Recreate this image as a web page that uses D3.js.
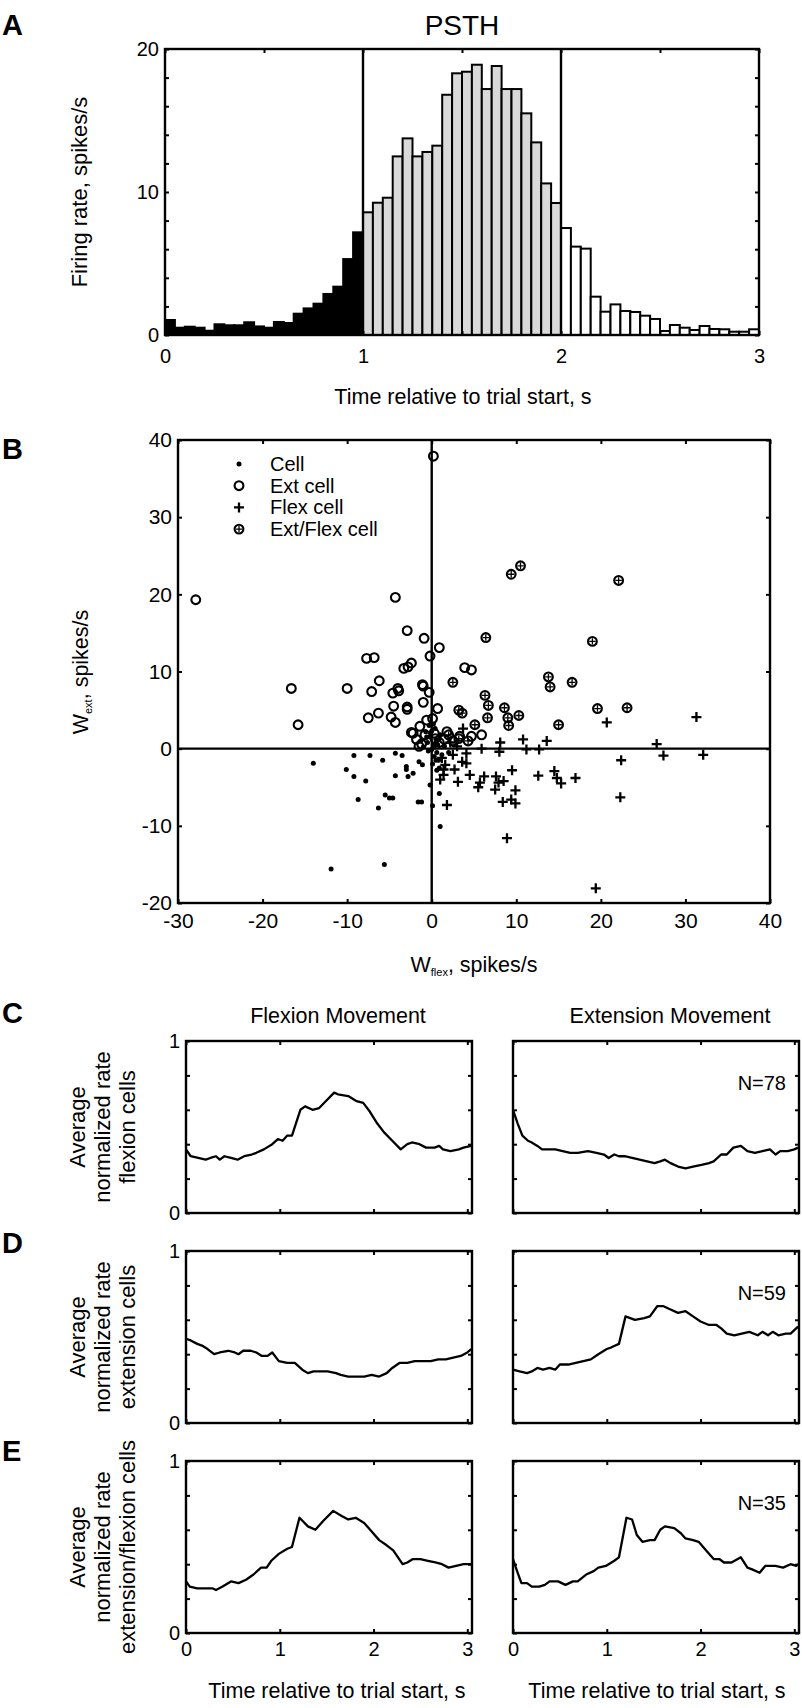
<!DOCTYPE html>
<html><head><meta charset="utf-8">
<script src="https://cdn.jsdelivr.net/npm/d3@7"></script>
<style>
body{margin:0;background:#fff}
svg{display:block}
text{font-family:"Liberation Sans",Arial,Helvetica,sans-serif;fill:#000}
</style></head><body>
<svg id="fig" width="802" height="1708"></svg>
<script>
// ---------- Panel A: PSTH ----------
const psthBinWidth = 0.05;
const psthRates = [
  1.05,0.51,0.58,0.51,0.30,0.75,0.68,0.68,0.89,0.60,0.51,0.91,0.84,1.49,1.86,2.19,2.87,3.38,5.31,7.18,
  8.58,9.25,9.60,12.49,13.75,12.49,12.80,13.24,16.80,18.30,18.41,18.90,17.20,18.81,17.20,17.20,15.50,13.47,10.60,9.23,
  7.48,6.18,6.04,2.68,1.63,2.14,1.68,1.61,1.35,1.12,0.28,0.70,0.51,0.35,0.63,0.42,0.40,0.23,0.23,0.40];
const psthEpochEdges = [1, 2];
const psthEpochFills = ["#000000", "#d9d9d9", "#ffffff"];
const psthXTicks = [0,0.5,1,1.5,2,2.5,3];
const psthXLabels = [0,1,2,3];
const psthYTicks = [0,2,4,6,8,10,12,14,16,18,20];
const psthYLabels = [0,10,20];

// ---------- Panel B: scatter ----------
const cellPts = [[-14.0,-1.9],[-11.9,-15.6],[-5.6,-15.0],[1.0,-10.1],[-9.2,-0.9],[-7.3,-0.9],[-5.8,-1.5],[-4.3,-0.6],[-3.5,-0.9],
  [-10.1,-2.7],[-9.2,-3.6],[-7.8,-4.2],[-4.3,-3.5],[-3.0,-2.3],[-3.0,-2.7],[-2.8,-3.6],[-2.2,-3.2],[-1.5,-1.7],[-1.1,-2.1],
  [-8.7,-6.6],[-5.5,-6.0],[-5.0,-6.4],[-4.6,-6.4],[-6.3,-7.7],[-1.6,-6.9],[-1.2,-6.9],[-0.2,-4.7],[0.9,-5.8],[0.1,-7.4],
  [0.6,-2.8],[0.3,-1.0],[0.6,-0.5],[-0.4,-0.3],[0.8,-1.5],[1.2,-0.8],[0.2,0.5],[-0.5,0.8],[0.5,1.2],[1.5,0.3],[2.0,-0.5],
  [-1.0,0.2],[0.1,-2.0],[0.9,-2.5],[-0.2,1.5],[0.4,2.6],[-0.7,2.2],[0.0,-0.1],[0.3,0.2],[-0.3,3.0],[0.2,3.2],[-0.6,1.5],
  [0.7,0.5],[1.0,1.8],[-1.3,1.0],[0.0,2.3],[0.5,-1.5]];
const extPts = [[-27.9,19.3],[0.2,37.9],[-4.3,19.6],[-2.9,15.3],[-0.9,14.3],[0.9,13.1],[-0.2,12.0],[-7.7,11.7],[-6.8,11.8],
  [-2.4,11.1],[-3.3,10.4],[-2.8,10.6],[3.9,10.5],[4.7,10.2],[-16.6,7.8],[-10.0,7.8],[-7.1,7.4],[-6.2,8.8],[-4.0,7.8],
  [-3.9,7.5],[-4.6,7.2],[-1.1,8.3],[-1.0,8.1],[-0.3,7.3],[-1.0,6.0],[-4.5,5.5],[-2.9,5.4],[-2.9,5.1],[0.7,5.2],[-6.3,4.6],
  [-7.5,4.0],[-4.8,4.1],[-4.3,3.4],[-15.8,3.1],[-2.4,2.1],[-2.2,2.0],[-1.4,2.9],[-0.6,3.7],[0.1,3.9],[1.8,2.2],[3.3,1.6],
  [4.7,1.6],[5.9,1.8],[-1.8,1.2],[-1.2,0.6],[-0.8,1.8],[0.3,2.0],[0.9,0.8],[2.5,1.0],[1.5,1.2],[-1.5,0.3],[0.4,1.3]];
const flexPts = [[31.3,4.1],[20.7,3.4],[26.6,0.6],[27.4,-0.9],[32.1,-0.8],[22.4,-1.5],[22.3,-6.3],[19.4,-18.1],[8.9,-11.6],
  [10.8,1.2],[13.6,1.0],[12.7,-0.1],[11.2,-0.1],[8.1,0.8],[8.0,-0.4],[5.9,0.0],[4.1,-0.6],[3.7,2.6],[3.6,-1.7],[4.1,-1.9],
  [1.6,-2.1],[1.4,-2.7],[2.7,-2.7],[1.0,-4.0],[1.4,-3.4],[1.8,-7.3],[4.5,-3.4],[3.1,-4.3],[6.2,-3.6],[5.5,-5.0],[5.7,-4.4],
  [7.6,-3.6],[7.9,-4.4],[8.5,-4.2],[7.5,-5.3],[9.5,-2.8],[9.9,-5.4],[8.4,-6.9],[9.4,-6.6],[9.9,-7.1],[12.6,-3.5],[14.5,-2.9],
  [14.8,-3.8],[15.3,-4.5],[17.0,-3.8],[2.5,-0.8],[1.2,-1.2],[3.0,0.3],[2.2,0.8]];
const extFlexPts = [[9.4,22.6],[10.5,23.7],[22.1,21.8],[6.4,14.4],[19.0,13.9],[2.5,8.6],[13.8,9.3],[14.0,8.0],[16.6,8.6],
  [6.3,6.9],[6.7,5.6],[6.6,4.0],[3.2,5.0],[3.6,4.6],[8.6,5.3],[9.0,4.0],[9.1,3.0],[10.3,4.3],[15.0,3.1],[19.6,5.2],
  [23.1,5.3],[5.1,3.1],[2.0,1.8],[3.2,1.3],[4.3,1.0]];
const legendLabels = ["Cell", "Ext cell", "Flex cell", "Ext/Flex cell"];
const scatterXTicks = [-30,-20,-10,0,10,20,30,40];
const scatterYTicks = [-20,-10,0,10,20,30,40];

// ---------- Panels C-E: average normalized rates [time s, rate] ----------
const flexCellsFlexMove = [[0,0.37],[0.05,0.33],[0.13,0.32],[0.21,0.31],[0.26,0.32],[0.32,0.33],[0.36,0.31],[0.41,0.33],[0.48,0.32],[0.55,0.31],
  [0.62,0.33],[0.70,0.34],[0.75,0.35],[0.83,0.37],[0.92,0.40],[0.98,0.43],[1.03,0.42],[1.08,0.45],[1.13,0.45],[1.22,0.60],
  [1.27,0.62],[1.35,0.60],[1.42,0.61],[1.49,0.65],[1.58,0.70],[1.62,0.69],[1.73,0.68],[1.82,0.65],[1.89,0.64],[1.96,0.59],
  [2.04,0.52],[2.11,0.47],[2.20,0.42],[2.29,0.37],[2.36,0.40],[2.41,0.41],[2.49,0.40],[2.56,0.38],[2.65,0.38],[2.70,0.39],
  [2.74,0.37],[2.82,0.36],[2.91,0.37],[2.96,0.38],[3.04,0.39]];
const flexCellsExtMove = [[0,0.60],[0.05,0.52],[0.10,0.45],[0.16,0.42],[0.20,0.41],[0.26,0.39],[0.31,0.37],[0.39,0.37],[0.45,0.37],
  [0.53,0.36],[0.61,0.35],[0.69,0.35],[0.80,0.36],[0.89,0.35],[0.97,0.34],[1.02,0.32],[1.08,0.34],[1.13,0.33],[1.19,0.33],
  [1.27,0.32],[1.35,0.31],[1.43,0.30],[1.51,0.29],[1.57,0.30],[1.62,0.31],[1.68,0.29],[1.76,0.27],[1.84,0.26],[1.92,0.27],
  [2.01,0.28],[2.09,0.29],[2.14,0.30],[2.22,0.34],[2.28,0.34],[2.35,0.38],[2.43,0.39],[2.50,0.36],[2.58,0.35],[2.66,0.36],
  [2.74,0.37],[2.80,0.34],[2.85,0.36],[2.93,0.36],[3.00,0.37],[3.04,0.38]];
const extCellsFlexMove = [[0,0.49],[0.05,0.48],[0.12,0.46],[0.17,0.45],[0.23,0.43],[0.30,0.40],[0.36,0.41],[0.45,0.42],[0.52,0.41],
  [0.56,0.40],[0.61,0.42],[0.69,0.42],[0.75,0.41],[0.81,0.39],[0.87,0.39],[0.92,0.41],[0.99,0.36],[1.08,0.35],[1.16,0.35],
  [1.24,0.31],[1.30,0.29],[1.36,0.30],[1.43,0.30],[1.51,0.30],[1.60,0.29],[1.65,0.28],[1.73,0.27],[1.81,0.27],[1.90,0.27],
  [1.98,0.28],[2.06,0.27],[2.14,0.29],[2.20,0.32],[2.28,0.35],[2.36,0.35],[2.44,0.36],[2.52,0.36],[2.61,0.36],[2.69,0.37],
  [2.77,0.37],[2.85,0.38],[2.93,0.39],[3.00,0.41],[3.04,0.43]];
const extCellsExtMove = [[0,0.31],[0.07,0.30],[0.15,0.29],[0.20,0.30],[0.26,0.32],[0.32,0.31],[0.39,0.32],[0.45,0.31],[0.50,0.34],
  [0.59,0.34],[0.67,0.35],[0.75,0.36],[0.83,0.37],[0.91,0.40],[1.00,0.43],[1.05,0.44],[1.13,0.46],[1.20,0.62],[1.30,0.60],
  [1.40,0.61],[1.46,0.62],[1.54,0.68],[1.60,0.68],[1.68,0.66],[1.76,0.64],[1.84,0.65],[1.92,0.62],[2.00,0.59],[2.09,0.57],
  [2.17,0.57],[2.22,0.55],[2.28,0.52],[2.36,0.51],[2.44,0.52],[2.52,0.53],[2.61,0.51],[2.66,0.53],[2.72,0.51],[2.77,0.53],
  [2.83,0.51],[2.91,0.52],[2.96,0.52],[3.02,0.55],[3.04,0.56]];
const bothCellsFlexMove = [[0,0.30],[0.04,0.27],[0.12,0.26],[0.20,0.26],[0.28,0.26],[0.32,0.25],[0.39,0.27],[0.48,0.30],[0.56,0.29],
  [0.64,0.31],[0.72,0.34],[0.80,0.38],[0.86,0.38],[0.91,0.42],[0.99,0.46],[1.08,0.49],[1.13,0.50],[1.21,0.67],[1.30,0.62],
  [1.38,0.60],[1.46,0.65],[1.57,0.71],[1.66,0.68],[1.73,0.66],[1.81,0.67],[1.90,0.64],[1.98,0.59],[2.06,0.54],[2.14,0.51],
  [2.21,0.48],[2.31,0.40],[2.36,0.41],[2.42,0.43],[2.50,0.43],[2.58,0.42],[2.66,0.41],[2.73,0.40],[2.80,0.38],[2.88,0.39],
  [2.96,0.40],[3.04,0.40]];
const bothCellsExtMove = [[0,0.43],[0.05,0.35],[0.09,0.29],[0.15,0.29],[0.20,0.27],[0.28,0.27],[0.34,0.28],[0.39,0.30],[0.48,0.30],
  [0.56,0.28],[0.64,0.30],[0.69,0.30],[0.78,0.34],[0.86,0.36],[0.91,0.38],[0.99,0.39],[1.08,0.42],[1.13,0.44],[1.21,0.67],
  [1.27,0.66],[1.32,0.57],[1.38,0.53],[1.46,0.54],[1.51,0.54],[1.57,0.60],[1.62,0.62],[1.72,0.61],[1.79,0.58],[1.84,0.55],
  [1.92,0.54],[1.98,0.53],[2.06,0.48],[2.14,0.43],[2.20,0.43],[2.25,0.41],[2.33,0.41],[2.43,0.44],[2.50,0.38],[2.55,0.37],
  [2.63,0.35],[2.69,0.39],[2.74,0.39],[2.80,0.39],[2.88,0.38],[2.96,0.40],[3.02,0.39],[3.04,0.40]];
const columnTitles = ["Flexion Movement", "Extension Movement"];
const rowLetters = ["C", "D", "E"];
const rowYLabels = [["Average","normalized rate","flexion cells"],
                    ["Average","normalized rate","extension cells"],
                    ["Average","normalized rate","extension/flexion cells"]];
const rowCounts = ["N=78", "N=59", "N=35"];
const rowSeries = [[flexCellsFlexMove, flexCellsExtMove],[extCellsFlexMove, extCellsExtMove],[bothCellsFlexMove, bothCellsExtMove]];
const rateXTicks = [0,1,2,3];
const rateYTicks = [0,0.2,0.4,0.6,0.8,1];
const rateYLabels = [0,1];

// ================= drawing =================
const svg = d3.select("#fig");
const LW = 2.4;
const plain = d => String(d);   // hyphen-minus like the original

function styleAxis(sel, fs){
  sel.attr("font-family", null).attr("font-size", null);
  sel.select(".domain").remove();
  sel.selectAll(".tick line").attr("stroke", "#000").attr("stroke-width", 2);
  sel.selectAll(".tick text").attr("font-size", fs).attr("fill", "#000");
}
function addAxis(g, axis, transform, fs){
  g.append("g").attr("transform", transform).call(axis).call(s => styleAxis(s, fs));
}
function frame(g, w, h){
  g.append("rect").attr("width", w).attr("height", h).attr("fill", "none")
    .attr("stroke", "#000").attr("stroke-width", LW);
}
function letter(t, x, y){
  svg.append("text").attr("x", x).attr("y", y).attr("font-size", 29).attr("font-weight", "bold").text(t);
}
function vlabel(lines, cx, cy, fs, gap){
  const g = svg.append("g").attr("transform", `translate(${cx},${cy}) rotate(-90)`);
  lines.forEach((l, i) => {
    g.append("text").attr("x", 0).attr("y", (i - (lines.length - 1) / 2) * gap).attr("dy", "0.35em")
      .attr("text-anchor", "middle").attr("font-size", fs).text(l);
  });
  return g;
}

// ----- Panel A -----
{
  const L = 165, T = 49, W = 594, H = 286;
  const g = svg.append("g").attr("transform", `translate(${L},${T})`);
  const x = d3.scaleLinear().domain([0, 3]).range([0, W]);
  const y = d3.scaleLinear().domain([0, 20]).range([H, 0]);
  const fillFor = i => {
    const mid = (i + 0.5) * psthBinWidth;
    const k = d3.bisectRight(psthEpochEdges, mid);
    return psthEpochFills[k];
  };
  g.selectAll("rect.bar").data(psthRates).join("rect").attr("class", "bar")
    .attr("x", (d, i) => x(i * psthBinWidth))
    .attr("width", x(psthBinWidth) - x(0))
    .attr("y", d => y(d)).attr("height", d => y(0) - y(d))
    .attr("fill", (d, i) => fillFor(i)).attr("stroke", "#000").attr("stroke-width", 2);
  g.selectAll("line.epoch").data(psthEpochEdges).join("line").attr("class", "epoch")
    .attr("x1", d => x(d)).attr("x2", d => x(d)).attr("y1", 0).attr("y2", H)
    .attr("stroke", "#000").attr("stroke-width", LW);
  frame(g, W, H);
  const fmtX = d => psthXLabels.includes(d) ? plain(d) : "";
  const fmtY = d => psthYLabels.includes(d) ? plain(d) : "";
  addAxis(g, d3.axisBottom(x).tickValues(psthXTicks).tickSize(-4).tickPadding(14).tickFormat(fmtX), `translate(0,${H})`, 20);
  addAxis(g, d3.axisTop(x).tickValues(psthXTicks).tickSize(-4).tickFormat(""), "translate(0,0)", 20);
  addAxis(g, d3.axisLeft(y).tickValues(psthYTicks).tickSize(-4).tickPadding(6).tickFormat(fmtY), "translate(0,0)", 20);
  addAxis(g, d3.axisRight(y).tickValues(psthYTicks).tickSize(-4).tickFormat(""), `translate(${W},0)`, 20);
  svg.append("text").attr("x", L + W / 2).attr("y", 35).attr("text-anchor", "middle").attr("font-size", 28).text("PSTH");
  svg.append("text").attr("x", 463).attr("y", 404).attr("text-anchor", "middle").attr("font-size", 21.5)
    .text("Time relative to trial start, s");
  vlabel(["Firing rate, spikes/s"], 79, 192, 22, 0);
  letter("A", 2, 35);
}

// ----- Panel B -----
{
  const L = 178, T = 440, W = 592, H = 463;
  const g = svg.append("g").attr("transform", `translate(${L},${T})`);
  const x = d3.scaleLinear().domain([-30, 40]).range([0, W]);
  const y = d3.scaleLinear().domain([-20, 40]).range([H, 0]);
  g.append("line").attr("x1", x(0)).attr("x2", x(0)).attr("y1", 0).attr("y2", H).attr("stroke", "#000").attr("stroke-width", LW);
  g.append("line").attr("x1", 0).attr("x2", W).attr("y1", y(0)).attr("y2", y(0)).attr("stroke", "#000").attr("stroke-width", LW);

  const drawDot = (sel) => sel.append("circle").attr("r", 2.5).attr("fill", "#000");
  const drawRing = (sel) => sel.append("circle").attr("r", 4.4).attr("fill", "none").attr("stroke", "#000").attr("stroke-width", 2.1);
  const drawPlus = (sel) => sel.append("path").attr("d", "M-5,0H5M0,-5V5").attr("stroke", "#000").attr("stroke-width", 2.3);
  const drawRingPlus = (sel) => { drawRing(sel); sel.append("path").attr("d", "M-3.2,0H3.2M0,-3.2V3.2").attr("stroke", "#000").attr("stroke-width", 1.3); };

  const layer = (pts, fn) => {
    g.append("g").selectAll("g").data(pts).join("g")
      .attr("transform", d => `translate(${x(d[0])},${y(d[1])})`).each(function(){ fn(d3.select(this)); });
  };
  layer(extPts, drawRing);
  layer(extFlexPts, drawRingPlus);
  layer(flexPts, drawPlus);
  layer(cellPts, drawDot);

  frame(g, W, H);
  addAxis(g, d3.axisBottom(x).tickValues(scatterXTicks).tickSize(-4).tickPadding(10).tickFormat(plain), `translate(0,${H})`, 21);
  addAxis(g, d3.axisTop(x).tickValues(scatterXTicks).tickSize(-4).tickFormat(""), "translate(0,0)", 21);
  addAxis(g, d3.axisLeft(y).tickValues(scatterYTicks).tickSize(-4).tickPadding(6).tickFormat(plain), "translate(0,0)", 21);
  addAxis(g, d3.axisRight(y).tickValues(scatterYTicks).tickSize(-4).tickFormat(""), `translate(${W},0)`, 21);

  // legend
  const drawers = [drawDot, drawRing, drawPlus, drawRingPlus];
  const lg = svg.append("g").attr("transform", "translate(239,464)");
  legendLabels.forEach((lab, i) => {
    const row = lg.append("g").attr("transform", `translate(0,${i * 21.7})`);
    drawers[i](row);
    row.append("text").attr("x", 31).attr("dy", "0.35em").attr("font-size", 20).text(lab);
  });

  const xl = svg.append("text").attr("x", 474).attr("y", 972).attr("text-anchor", "middle").attr("font-size", 21.5);
  xl.append("tspan").text("W");
  xl.append("tspan").attr("font-size", 11).attr("dy", 4).text("flex");
  xl.append("tspan").attr("dy", -4).text(", spikes/s");
  const yl = svg.append("g").attr("transform", `translate(80,672) rotate(-90)`)
    .append("text").attr("text-anchor", "middle").attr("dy", "0.35em").attr("font-size", 21.5);
  yl.append("tspan").text("W");
  yl.append("tspan").attr("font-size", 11).attr("dy", 4).text("ext");
  yl.append("tspan").attr("dy", -4).text(",  spikes/s");
  letter("B", 2, 459);
}

// ----- Panels C, D, E -----
{
  const colLeft = [186, 513], rowTop = [1041, 1251, 1461], W = 286, H = 172;
  const x = d3.scaleLinear().domain([0, 3.05]).range([0, W]);
  const y = d3.scaleLinear().domain([0, 1]).range([H, 0]);
  const line = d3.line().x(d => x(d[0])).y(d => y(d[1]));
  const titleX = [338, 670];
  columnTitles.forEach((t, c) => {
    svg.append("text").attr("x", titleX[c]).attr("y", 1023).attr("text-anchor", "middle").attr("font-size", 21.5).text(t);
  });
  const letterY = [1023, 1253, 1461];
  rowSeries.forEach((pair, r) => {
    pair.forEach((series, c) => {
      const g = svg.append("g").attr("transform", `translate(${colLeft[c]},${rowTop[r]})`);
      g.append("path").datum(series).attr("d", line).attr("fill", "none").attr("stroke", "#000")
        .attr("stroke-width", 2.3).attr("stroke-linejoin", "round");
      frame(g, W, H);
      const lastRow = r === rowSeries.length - 1;
      addAxis(g, d3.axisBottom(x).tickValues(rateXTicks).tickSize(-4).tickPadding(9)
        .tickFormat(lastRow ? plain : ""), `translate(0,${H})`, 20);
      addAxis(g, d3.axisTop(x).tickValues(rateXTicks).tickSize(-4).tickFormat(""), "translate(0,0)", 20);
      addAxis(g, d3.axisLeft(y).tickValues(rateYTicks).tickSize(-4).tickPadding(6)
        .tickFormat(d => (c === 0 && rateYLabels.includes(d)) ? plain(d) : ""), "translate(0,0)", 20);
      addAxis(g, d3.axisRight(y).tickValues(rateYTicks).tickSize(-4).tickFormat(""), `translate(${W},0)`, 20);
      if (c === 1) {
        g.append("text").attr("x", 273).attr("y", 49).attr("text-anchor", "end").attr("font-size", 20).text(rowCounts[r]);
      }
    });
    vlabel(rowYLabels[r], 102, rowTop[r] + H / 2, 22, 25);
    letter(rowLetters[r], 2, letterY[r]);
  });
  const xlX = [337, 657];
  xlX.forEach(cx => {
    svg.append("text").attr("x", cx).attr("y", 1698).attr("text-anchor", "middle").attr("font-size", 21.5)
      .text("Time relative to trial start, s");
  });
}
</script>
</body></html>
